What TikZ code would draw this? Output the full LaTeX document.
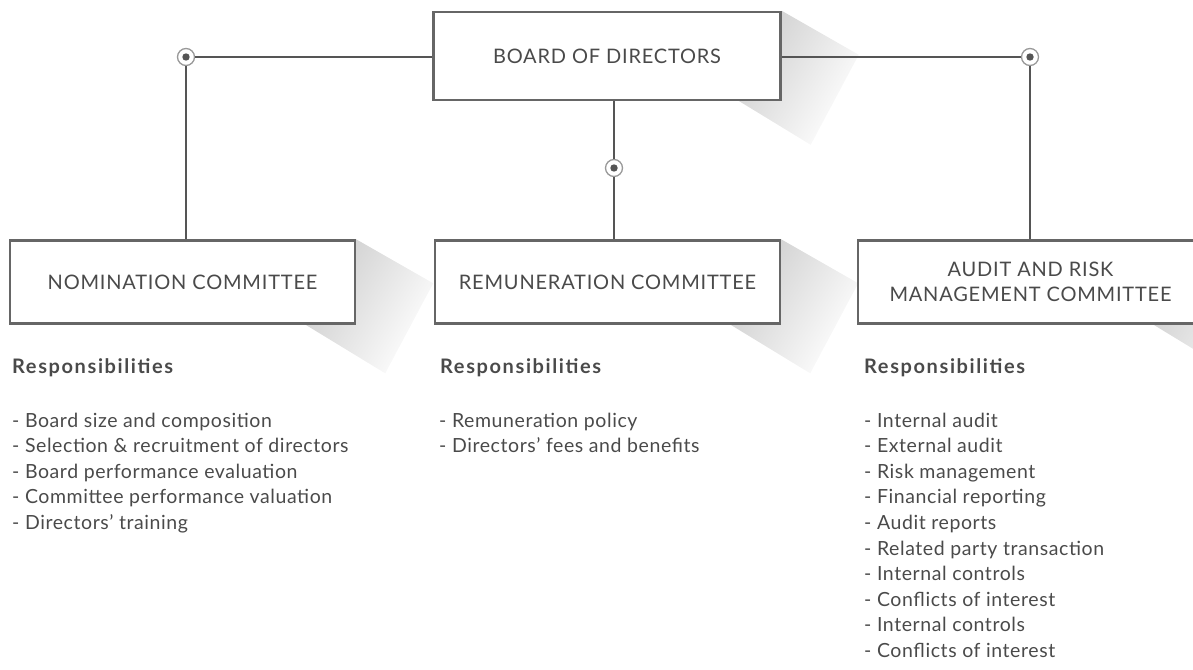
\documentclass[tikz,border=0pt]{standalone}
\usepackage{fontspec}
\setmainfont{Lato}[LetterSpace=3]
\newfontfamily\titlefont{Lato}[LetterSpace=4]
\newfontfamily\headfont{Lato}[LetterSpace=8]
\usetikzlibrary{positioning, backgrounds}
\definecolor{ink}{HTML}{4A4A4A}
\definecolor{rule}{HTML}{555555}
\definecolor{frame}{HTML}{666666}

\begin{document}
\begin{tikzpicture}[x=1pt, y=-1pt,
  box/.style = {draw=frame, line width=2.4pt, fill=white, minimum width=345pt, minimum height=83pt, align=center, text=ink, inner sep=0pt, font=\titlefont\fontsize{20}{25}\selectfont},
  link/.style = {draw=rule, line width=1.4pt},
  knot/.style = {circle, draw=gray!80, line width=1.3pt, fill=white, minimum size=17pt, inner sep=0pt, path picture={\fill[rule] (path picture bounding box.center) circle (3.7pt);}},
  head/.style = {anchor=base west, text=ink, inner sep=0pt, font=\headfont\bfseries\fontsize{20}{24}\selectfont},
  item/.style = {anchor=base west, text=ink, inner sep=0pt, font=\fontsize{19.5}{24}\selectfont},
  longshade/.style = {top color=gray!40, bottom color=white, shading angle=59}]
\useasboundingbox (0,0) rectangle (1193,669);
\clip (0,0) rectangle (1193,669);

% boxes
\node[box, minimum width=347pt, minimum height=88pt] (board) at (607,56) {BOARD OF DIRECTORS};
\node[box] (nom) at (182.5,282) {NOMINATION COMMITTEE};
\node[box] (rem) at (607.5,282) {REMUNERATION COMMITTEE};
\node[box] (aud) at (1030.5,282) {AUDIT AND RISK\\MANAGEMENT COMMITTEE};

% long shadows behind the boxes
\begin{scope}[on background layer]
\foreach \b in {board, nom, rem, aud}
  \shade[longshade] (\b.north east) -- ++(77,44) -- ++(-48,90) -- ++(-82,-50) -- cycle;
\end{scope}

% connectors
\node[knot] (k1) at (186,57) {};
\node[knot] (k2) at (614,168) {};
\node[knot] (k3) at (1030,57) {};
\draw[link] (board.west |- k1) -- (k1);
\draw[link] (k1) -- (k1 |- nom.north);
\draw[link] (board.east |- k3) -- (k3);
\draw[link] (k3) -- (k3 |- aud.north);
\draw[link] (k2 |- board.south) -- (k2);
\draw[link] (k2) -- (k2 |- rem.north);

% responsibilities
\node[head] (h1) at (12,373) {Responsibilities};
\node[head] (h2) at (440,373) {Responsibilities};
\node[head] (h3) at (864,373) {Responsibilities};

\foreach \t [count=\i from 0] in {- Board size and composition, - Selection \& recruitment of directors, - Board performance evaluation, - Committee performance valuation, - Directors’ training}
  \node[item] (n\i) at (12, 427+25.6*\i) {\t};

\foreach \t [count=\i from 0] in {- Remuneration policy, - Directors’ fees and benefits}
  \node[item] (r\i) at (439, 427+25.6*\i) {\t};

\foreach \t [count=\i from 0] in {- Internal audit, - External audit, - Risk management, - Financial reporting, - Audit reports, - Related party transaction, - Internal controls, - Conflicts of interest, - Internal controls, - Conflicts of interest}
  \node[item] (a\i) at (864, 427+25.6*\i) {\t};
\end{tikzpicture}
\end{document}
